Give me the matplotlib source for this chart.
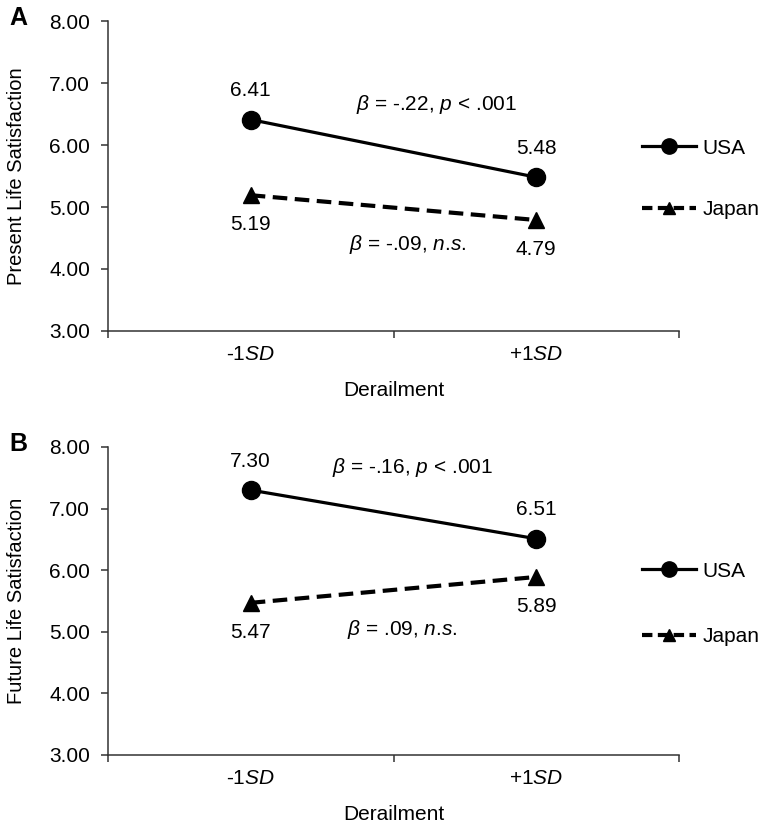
import matplotlib.pyplot as plt
from matplotlib.lines import Line2D

plt.rcParams['font.family'] = ['Liberation Sans', 'DejaVu Sans']
plt.rcParams['mathtext.fontset'] = 'custom'
plt.rcParams['mathtext.rm'] = 'Liberation Sans'
plt.rcParams['mathtext.it'] = 'Liberation Sans:italic'

# data
x_pos = [0.5, 1.5]
x_labels = ['-1$\\mathit{SD}$', '+1$\\mathit{SD}$']
series = ['USA', 'Japan']

present_usa = [6.41, 5.48]
present_japan = [5.19, 4.79]
future_usa = [7.30, 6.51]
future_japan = [5.47, 5.89]

present_notes = ['$\\mathit{β}$ = -.22, $\\mathit{p}$ < .001', '$\\mathit{β}$ = -.09, $\\mathit{n}$.$\\mathit{s}$.']
future_notes = ['$\\mathit{β}$ = -.16, $\\mathit{p}$ < .001', '$\\mathit{β}$ = .09, $\\mathit{n}$.$\\mathit{s}$.']

fig = plt.figure(figsize=(7.63, 8.31), dpi=100)
axA = fig.add_axes([0.1415, 0.6017, 0.7485, 0.373])
axB = fig.add_axes([0.1415, 0.0915, 0.7485, 0.3706])

FS = 15


def draw(ax, usa, japan, notes, note_pos, ylabel, panel, leg_y, leg_sp):
    ax.plot(x_pos, usa, color='black', lw=2.3, marker='o', ms=13, label='USA')
    ax.plot(x_pos, japan, color='black', lw=3.0, ls=(0, (3.5, 1.8)),
            marker='^', ms=12, label='Japan')
    for i in range(2):
        ax.text(x_pos[i], usa[i] + 0.47, f'{usa[i]:.2f}', ha='center', va='center', fontsize=FS)
        ax.text(x_pos[i], japan[i] - 0.48, f'{japan[i]:.2f}', ha='center', va='center', fontsize=FS)
    ax.text(note_pos[0][0], note_pos[0][1], notes[0], ha='center', va='center', fontsize=FS)
    ax.text(note_pos[1][0], note_pos[1][1], notes[1], ha='center', va='center', fontsize=FS)

    ax.set_xlim(0, 2)
    ax.set_ylim(3, 8)
    ax.set_yticks([3, 4, 5, 6, 7, 8])
    ax.set_yticklabels([f'{v:.2f}' for v in [3, 4, 5, 6, 7, 8]], fontsize=FS)
    ax.set_xticks([0, 1, 2])
    ax.set_xticklabels([])
    ax.set_xticks(x_pos, minor=True)
    ax.set_xticklabels(x_labels, minor=True, fontsize=FS)
    ax.tick_params(axis='x', which='minor', length=0, pad=10)
    ax.tick_params(axis='both', which='major', direction='out', length=5, width=1.1, color='#333333')
    ax.tick_params(axis='y', pad=8)
    for s in ['top', 'right']:
        ax.spines[s].set_visible(False)
    for s in ['left', 'bottom']:
        ax.spines[s].set_linewidth(1.1)
        ax.spines[s].set_color('#333333')
    ax.set_xlabel('Derailment', fontsize=FS, labelpad=12)
    ax.set_ylabel(ylabel, fontsize=14.5)
    ax.yaxis.set_label_coords(-0.143, 0.5)
    ax.text(-0.172, 1.01, panel, transform=ax.transAxes, fontsize=18, fontweight='bold',
            ha='left', va='center')

    handles = [Line2D([], [], color='black', lw=2.3, marker='o', ms=11),
               Line2D([], [], color='black', lw=3.0, ls=(0, (2.5, 1.3)), marker='^', ms=9)]
    ax.legend(handles, series, loc='center left', bbox_to_anchor=(0.935, leg_y), frameon=False,
              fontsize=FS, handlelength=2.6, handletextpad=0.3, labelspacing=leg_sp,
              borderaxespad=0, borderpad=0)


draw(axA, present_usa, present_japan, present_notes, [(1.149, 6.65), (1.05, 4.39)],
     'Present Life Satisfaction', 'A', 0.49, 2.05)
draw(axB, future_usa, future_japan, future_notes, [(1.065, 7.66), (1.03, 5.03)],
     'Future Life Satisfaction', 'B', 0.49, 2.25)

fig.savefig('out.png', dpi=100)
